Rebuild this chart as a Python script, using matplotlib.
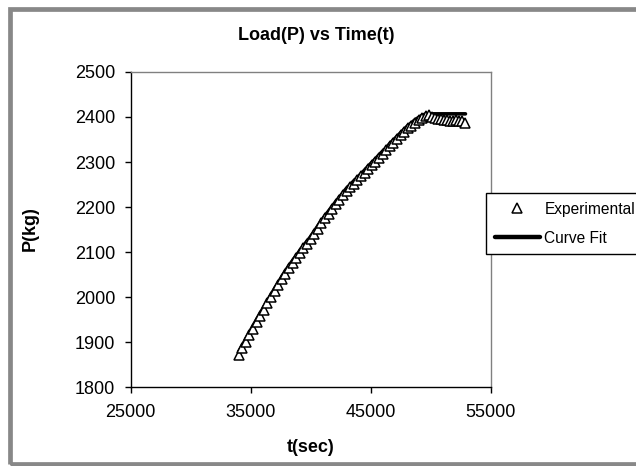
import matplotlib
matplotlib.use("Agg")
import matplotlib.pyplot as plt
from matplotlib.patches import Rectangle

# ========================================
# Data
# ========================================

t_sec = [34000, 34300, 34600, 34900, 35200, 35500, 35800, 36100, 36400, 36700,
         37000, 37300, 37600, 37900, 38200, 38500, 38800, 39100, 39400, 39700,
         40000, 40300, 40600, 40900, 41200, 41500, 41800, 42100, 42400, 42700,
         43000, 43300, 43600, 43900, 44200, 44500, 44800, 45100, 45400, 45700,
         46000, 46300, 46600, 46900, 47200, 47500, 47800, 48100, 48400, 48700,
         49000, 49300, 49600, 49850, 50100, 50350, 50600, 50850, 51100, 51350,
         51600, 51850, 52100, 52350, 52600, 52900]

p_experimental = [1872, 1886, 1901, 1915, 1930, 1944, 1958, 1972, 1986, 1999,
                  2013, 2026, 2039, 2052, 2064, 2075, 2086, 2097, 2108, 2118,
                  2128, 2140, 2152, 2164, 2175, 2185, 2196, 2206, 2216, 2226,
                  2236, 2244, 2252, 2260, 2268, 2276, 2285, 2293, 2301, 2310,
                  2318, 2326, 2335, 2343, 2351, 2359, 2367, 2375, 2380, 2387,
                  2393, 2398, 2402, 2404, 2401, 2398, 2396, 2395, 2394, 2393,
                  2392, 2392, 2393, 2391, 2392, 2386]

p_curve_fit = [1878, 1892, 1907, 1921, 1936, 1950, 1964, 1978, 1992, 2005,
               2019, 2032, 2045, 2058, 2070, 2081, 2092, 2103, 2114, 2124,
               2134, 2146, 2158, 2170, 2181, 2191, 2202, 2212, 2222, 2232,
               2242, 2250, 2258, 2266, 2274, 2282, 2291, 2299, 2307, 2316,
               2324, 2332, 2341, 2349, 2357, 2365, 2373, 2381, 2387, 2394,
               2399, 2404, 2407, 2407, 2407, 2407, 2407, 2407, 2407, 2407,
               2407, 2407, 2407, 2407, 2407, 2407]

x_ticks = [25000, 35000, 45000, 55000]
y_ticks = [1800, 1900, 2000, 2100, 2200, 2300, 2400, 2500]

# ========================================
# Plot
# ========================================

plt.rcParams['font.family'] = ['Liberation Sans', 'DejaVu Sans']

fig = plt.figure(figsize=(6.36, 4.66), dpi=100)
ax = fig.add_axes([0.2052, 0.1695, 0.5663, 0.676])

line, = ax.plot(t_sec, p_curve_fit, color='black', linewidth=2.6,
                solid_capstyle='round', label='Curve Fit', zorder=2)
pts, = ax.plot(t_sec, p_experimental, linestyle='none', marker='^',
               markersize=6.8, markerfacecolor='white', markeredgecolor='black',
               markeredgewidth=1.1, label='Experimental', zorder=3)

ax.set_xlim(25000, 55000)
ax.set_ylim(1800, 2500)
ax.set_xticks(x_ticks)
ax.set_yticks(y_ticks)
ax.tick_params(direction='out', length=4, width=1, colors='black', labelsize=13)
ax.tick_params(axis='y', pad=7)
ax.tick_params(axis='x', pad=8)

for side in ['left', 'bottom']:
    ax.spines[side].set_color('black')
    ax.spines[side].set_linewidth(1)
for side in ['top', 'right']:
    ax.spines[side].set_color('#808080')
    ax.spines[side].set_linewidth(1)

fig.text(316 / 636, 1 - 35 / 466, "Load(P) vs Time(t)", ha='center', va='center',
         fontsize=13, fontweight='bold')
fig.text(311 / 636, 1 - 447 / 466, "t(sec)", ha='center', va='center',
         fontsize=13, fontweight='bold')
fig.text(30 / 636, 1 - 229 / 466, "P(kg)", ha='center', va='center',
         rotation=90, fontsize=13, fontweight='bold')

leg = fig.legend(handles=[pts, line], labels=['Experimental', 'Curve Fit'],
                 loc='upper left', bbox_to_anchor=(486 / 636, 1 - 193 / 466),
                 bbox_transform=fig.transFigure, borderaxespad=0, fontsize=11.2,
                 numpoints=1, handlelength=2.9, handletextpad=0.3,
                 borderpad=0.55, labelspacing=0.9, fancybox=False,
                 framealpha=1, edgecolor='black')
leg.get_frame().set_linewidth(1)
leg.legend_handles[1].set_linewidth(3.2)

# outer chart frame (cut off on the right like the reference)
frame = Rectangle((10 / 636, 1 - 464 / 466), 1.2, (464 - 9) / 466,
                  transform=fig.transFigure, fill=False, edgecolor='#888888',
                  linewidth=3.4, clip_on=False)
fig.patches.append(frame)

fig.savefig("out.png", dpi=100)
